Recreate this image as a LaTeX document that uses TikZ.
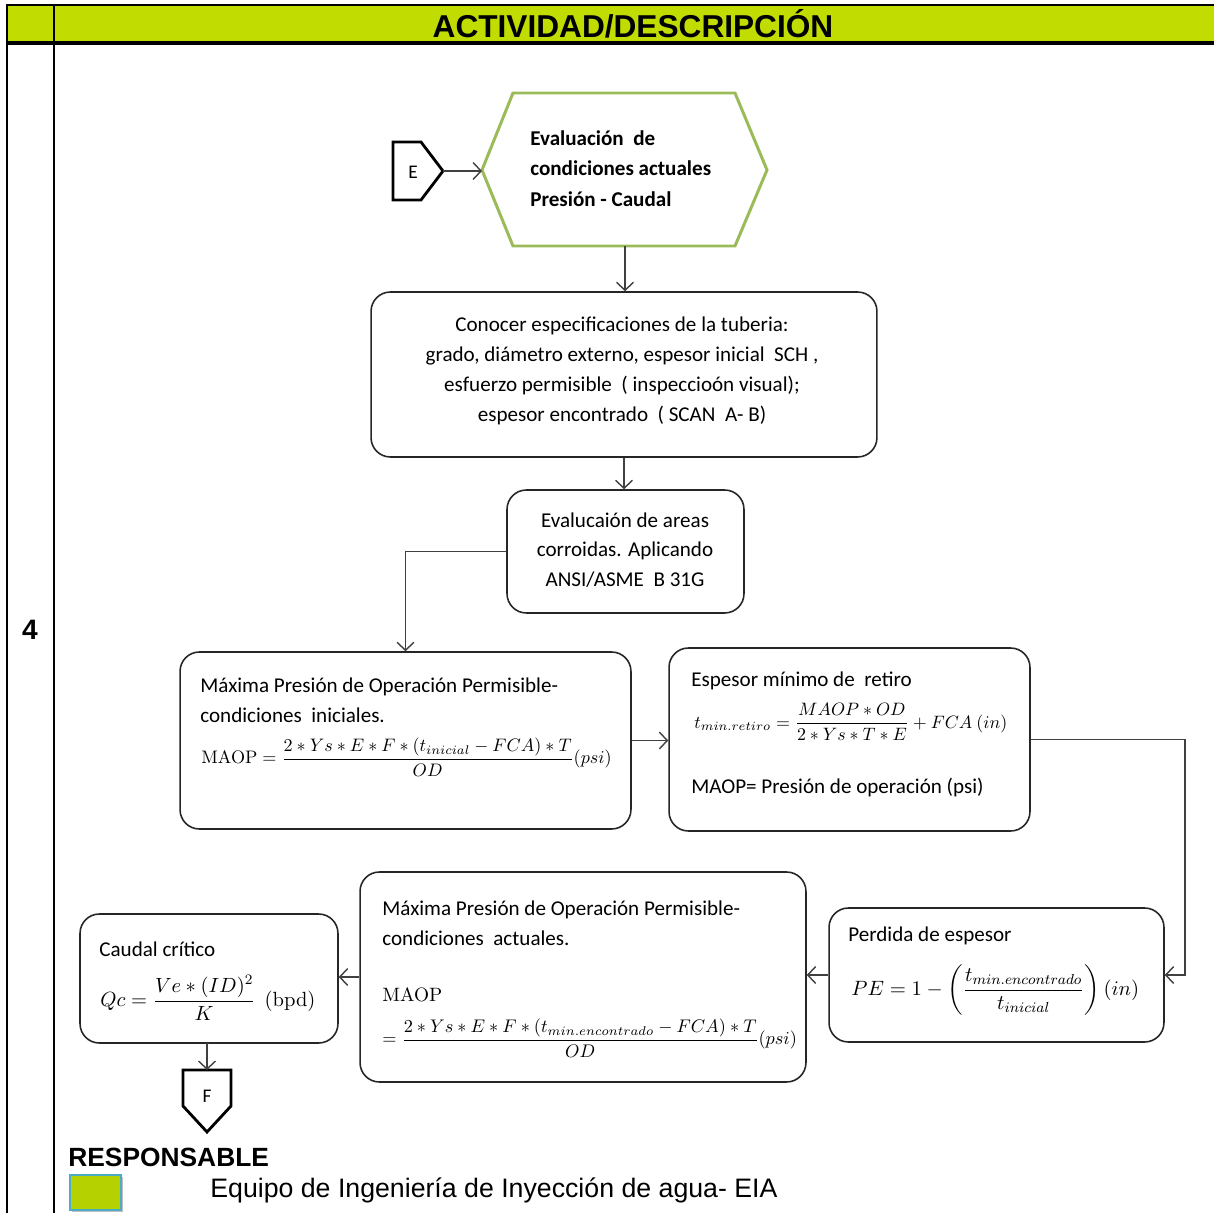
\RequirePackage{fix-cm}
\documentclass[tikz,border=0pt]{standalone}
\usepackage[no-math]{fontspec}
\usepackage{amsmath}
\setmainfont{Carlito}
\newfontfamily\arialf{Liberation Sans}
\usetikzlibrary{arrows.meta}
\definecolor{hdrgreen}{RGB}{192,220,0}
\definecolor{hexgreen}{RGB}{155,187,89}
\definecolor{sqedge}{RGB}{75,172,198}
\tikzset{
  box/.style={draw=black!85, line width=0.9pt, rounded corners=11pt, inner sep=0pt},
  arr/.style={draw=black!75, line width=0.8pt, -{Straight Barb[length=1.6mm,width=3.4mm]}},
  txt/.style={inner sep=0pt, anchor=west, align=left, font=\fontsize{12}{17}\selectfont},
  ctxt/.style={inner sep=0pt, align=center, font=\fontsize{12}{17}\selectfont},
  eq/.style={inner sep=0pt, anchor=west, font=\fontsize{10.3}{13}\selectfont},
  term/.style={draw=black, line width=1.6pt},
  frame/.style={draw=black, line width=1.2pt},
}
\begin{document}
\begin{tikzpicture}[x=0.02cm, y=-0.02cm]
\useasboundingbox (0,0) rectangle (1214,1213);

% table frame and header
\fill[hdrgreen] (7,5) rectangle (1214,43);
\draw[frame] (7,1213) -- (7,5) -- (1214,5);
\draw[frame, line width=1.8pt] (7,43) -- (1214,43);
\draw[frame] (54,5) -- (54,1213);
\node[font=\arialf\bfseries\fontsize{18}{20}\selectfont, inner sep=0pt] (hdr) at (633,24) {ACTIVIDAD/DESCRIPCIÓN};
\node[font=\arialf\bfseries\fontsize{16}{18}\selectfont, inner sep=0pt] (num) at (30,630) {4};

% start connector E
\draw[term] (393,142) -- (421,142) -- (443,171) -- (421,200) -- (393,200) -- cycle;
\node[inner sep=0pt, font=\fontsize{11}{13}\selectfont] (E) at (413,172) {E};
\coordinate (Etip) at (443,171);

% hexagon: evaluation of current conditions
\draw[hexgreen, line width=1.7pt] (482,170) -- (513,93) -- (735,93) -- (767,170) -- (735,246) -- (513,246) -- cycle;
\coordinate (hexW) at (482,171);
\coordinate (hexS) at (625,246);
\node[txt, font=\bfseries\fontsize{12}{17.3}\selectfont] (hex) at (530,168.5) {Evaluación\ \ de\\condiciones actuales\\Presión - Caudal};

% process boxes
\node[box, minimum width=10.12cm, minimum height=3.30cm] (b2) at (624,374.5) {};
\node[box, minimum width=4.74cm, minimum height=2.46cm] (b3) at (625.5,551.5) {};
\node[box, minimum width=9.02cm, minimum height=3.54cm] (b4) at (405.5,740.5) {};
\node[box, minimum width=7.22cm, minimum height=3.66cm] (b5) at (849.5,739.5) {};
\node[box, minimum width=6.70cm, minimum height=2.68cm] (b6) at (996.5,975) {};
\node[box, minimum width=8.92cm, minimum height=4.20cm] (b7) at (583,977) {};
\node[box, minimum width=5.16cm, minimum height=2.58cm] (b8) at (209,978.5) {};

% box texts
\node[ctxt] (t2) at (622,371) {Conocer especificaciones de la tuberia:\\grado, diámetro externo, espesor inicial\ \ SCH ,\\esfuerzo permisible\ \ ( inspeccioón visual);\\espesor encontrado\ \ ( SCAN\ \ A- B)};
\node[ctxt] (t3) at (625,550) {Evalucaión de areas\\corroidas. Aplicando\\ANSI/ASME\ \ B 31G};

\node[txt] (t4) at (200,700) {Máxima Presión de Operación Permisible-\\condiciones\ \ iniciales.};
\node[eq] (f4) at (201,757) {$\mathrm{MAOP}=\dfrac{2\ast Ys\ast E\ast F\ast(t_{inicial}-FCA)\ast T}{OD}(psi)$};

\node[txt] (t5) at (691,681) {Espesor mínimo de\ \ retiro};
\node[eq, font=\fontsize{10.2}{13}\selectfont] (f5) at (694,722) {$t_{min.retiro}=\dfrac{MAOP\ast OD}{2\ast Ys\ast T\ast E}+FCA\ (in)$};
\node[txt] (t5b) at (691,787) {MAOP= Presión de operación (psi)};

\node[txt] (t6) at (848,936) {Perdida de espesor};
\node[eq, font=\fontsize{11.8}{14}\selectfont] (f6) at (851,990) {$PE=1-\left(\dfrac{t_{min.encontrado}}{t_{inicial}}\right)(in)$};

\node[txt] (t7) at (382,923) {Máxima Presión de Operación Permisible-\\condiciones\ \ actuales.};
\node[eq, font=\fontsize{11}{14}\selectfont] (m7) at (382,995) {$\mathrm{MAOP}$};
\node[eq, font=\fontsize{10.4}{13}\selectfont] (f7) at (382,1038) {$=\dfrac{2\ast Ys\ast E\ast F\ast(t_{min.encontrado}-FCA)\ast T}{OD}(psi)$};

\node[txt] (t8) at (99,949) {Caudal crítico};
\node[eq, font=\fontsize{11.7}{14}\selectfont] (f8) at (100,998) {$Qc=\dfrac{Ve\ast(ID)^2}{K}\ \ \mathrm{(bpd)}$};

% end connector F
\draw[term] (183,1070) -- (231,1070) -- (231,1106) -- (207,1132) -- (183,1106) -- cycle;
\node[inner sep=0pt, font=\fontsize{11}{13}\selectfont] (F) at (207,1096) {F};
\coordinate (Ftop) at (207,1070);

% connectors
\draw[arr] (Etip) -- (hexW);
\draw[arr] (hexS) -- (hexS |- b2.north);
\draw[arr] (b2.south) -- (b2.south |- b3.north);
\draw[arr] (b3.west) -| (b4.north);
\draw[arr] (b4.east) -- (b4.east -| b5.west);
\coordinate (rt) at (1185,739.5);
\draw[arr] (b5.east) -- (rt) |- (b6.east);
\draw[arr] (b6.west) -- (b6.west -| b7.east);
\draw[arr] (b7.west) -- (b7.west -| b8.east);
\draw[arr] (b8.south) -- (b8.south -| Ftop) -- (Ftop);

% responsible legend
\node[font=\arialf\bfseries\fontsize{15}{17}\selectfont, inner sep=0pt, anchor=west] (resp) at (68,1157) {RESPONSABLE};
\fill[black!25] (72,1177) rectangle (123,1212);
\node[draw=sqedge, fill=hdrgreen!95!black, line width=0.8pt, minimum width=1.02cm, minimum height=0.70cm, inner sep=0pt] (sq) at (95.5,1192.5) {};
\node[font=\arialf\fontsize{15.2}{17}\selectfont, inner sep=0pt, anchor=west] (team) at (210,1190) {Equipo de Ingeniería de Inyección de agua- EIA};
\end{tikzpicture}
\end{document}
